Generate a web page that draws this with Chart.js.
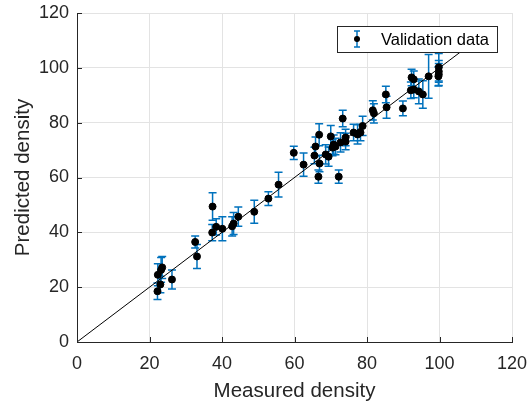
<!DOCTYPE html>
<html>
<head>
<meta charset="utf-8">
<script src="https://cdn.jsdelivr.net/npm/chart.js@4.4.0/dist/chart.umd.min.js"></script>
<style>
  html, body { margin: 0; padding: 0; background: #fff; }
  #wrap { width: 527px; height: 404px; }
</style>
</head>
<body>
<div id="wrap"><canvas id="chart" width="527" height="404"></canvas></div>
<script>
// Dados
const measured = [22.2, 23.0, 22.3, 23.2, 23.5, 26.2, 32.6, 33.1, 37.4, 37.3,
  38.4, 40.1, 42.8, 43.2, 44.5, 48.9, 52.8, 55.6, 59.8, 62.5,
  66.6, 72.2, 65.5, 66.9, 65.8, 66.8, 68.6, 69.4, 70.0, 70.5,
  70.8, 71.3, 72.7, 73.3, 74.1, 74.1, 76.3, 77.4, 78.2, 78.8,
  81.6, 81.9, 85.2, 85.4, 89.9, 92.3, 92.9, 92.1, 92.9, 94.3,
  95.4, 97.0, 99.8, 99.8, 99.8, 99.7];
const predicted = [18.5, 21.0, 24.5, 26.3, 27.2, 22.8, 36.5, 31.2, 49.4, 39.9,
  42.0, 41.3, 42.2, 43.2, 45.7, 47.5, 52.3, 57.4, 69.0, 64.7,
  60.3, 60.3, 68.0, 65.1, 71.3, 75.6, 68.4, 67.6, 75.0, 70.9,
  72.0, 71.3, 72.8, 81.5, 73.1, 74.6, 76.4, 75.7, 76.4, 78.8,
  84.5, 83.4, 90.3, 85.6, 85.2, 96.5, 95.8, 91.8, 92.1, 91.4,
  90.3, 96.9, 100.2, 98.7, 97.6, 96.9];
const errHalf = [3, 3, 4, 4.5, 4, 3.5, 2.2, 4.4, 5, 3,
  3, 4.4, 3.5, 4, 3.5, 4.2, 2.5, 4.5, 2.4, 4.2,
  2.4, 2.4, 3, 3, 3.5, 4, 3.5, 3.5, 4, 3,
  3.5, 3, 3.5, 3, 3, 3, 3, 3.5, 3, 3.5,
  3.5, 3.5, 3, 4, 2.7, 3, 3, 3, 3, 4.5,
  5, 8, 5, 4, 4, 3.5];
const lineX = [0, 110];
const tickValues = [0, 20, 40, 60, 80, 100, 120];

const blue = '#0072BD';
const axisColor = '#262626';
const fontFam = '"Liberation Sans", Arial, sans-serif';

const points = measured.map((x, i) => ({ x: x, y: predicted[i] }));
const diag = lineX.map(v => ({ x: v, y: v }));

// Barras de erro
const errorBars = {
  id: 'errorBars',
  beforeDatasetsDraw(chart) {
    const ctx = chart.ctx, xs = chart.scales.x, ys = chart.scales.y;
    ctx.save();
    ctx.strokeStyle = blue;
    ctx.lineWidth = 1.5;
    measured.forEach((m, i) => {
      const px = xs.getPixelForValue(m);
      const top = ys.getPixelForValue(predicted[i] + errHalf[i]);
      const bot = ys.getPixelForValue(predicted[i] - errHalf[i]);
      ctx.beginPath();
      ctx.moveTo(px, top); ctx.lineTo(px, bot);
      ctx.moveTo(px - 4, top); ctx.lineTo(px + 4, top);
      ctx.moveTo(px - 4, bot); ctx.lineTo(px + 4, bot);
      ctx.stroke();
    });
    ctx.restore();
  }
};

// Marcas dos ticks para dentro (estilo MATLAB)
const innerTicks = {
  id: 'innerTicks',
  afterDatasetsDraw(chart) {
    const ctx = chart.ctx, xs = chart.scales.x, ys = chart.scales.y;
    const a = chart.chartArea;
    ctx.save();
    ctx.strokeStyle = axisColor;
    ctx.lineWidth = 1;
    ctx.beginPath();
    tickValues.forEach(v => {
      const px = Math.round(xs.getPixelForValue(v)) + 0.5;
      ctx.moveTo(px, a.bottom); ctx.lineTo(px, a.bottom - 5);
      const py = Math.round(ys.getPixelForValue(v)) + 0.5;
      ctx.moveTo(a.left, py); ctx.lineTo(a.left + 5, py);
    });
    ctx.stroke();
    ctx.restore();
  }
};

// Legenda dentro do gráfico
const legendBox = {
  id: 'legendBox',
  afterDraw(chart) {
    const ctx = chart.ctx;
    const x0 = 337.5, y0 = 26.5, w = 160, h = 26;
    ctx.save();
    ctx.fillStyle = '#fff';
    ctx.fillRect(x0, y0, w, h);
    ctx.strokeStyle = axisColor;
    ctx.lineWidth = 1;
    ctx.strokeRect(x0, y0, w, h);
    const cx = 357, cy = 39;
    ctx.strokeStyle = blue;
    ctx.lineWidth = 1.5;
    ctx.beginPath();
    ctx.moveTo(cx, cy - 8); ctx.lineTo(cx, cy + 8);
    ctx.moveTo(cx - 3, cy - 8); ctx.lineTo(cx + 3, cy - 8);
    ctx.moveTo(cx - 3, cy + 8); ctx.lineTo(cx + 3, cy + 8);
    ctx.stroke();
    ctx.fillStyle = '#000';
    ctx.beginPath();
    ctx.arc(cx, cy, 3, 0, Math.PI * 2);
    ctx.fill();
    ctx.font = '16.5px ' + fontFam;
    ctx.textBaseline = 'middle';
    ctx.fillText('Validation data', 381, cy + 1);
    ctx.restore();
  }
};

new Chart(document.getElementById('chart'), {
  type: 'scatter',
  data: {
    datasets: [
      {
        label: 'Validation data',
        data: points,
        backgroundColor: '#000',
        borderColor: '#000',
        pointRadius: 3.5,
        pointHoverRadius: 3.5,
        order: 1
      },
      {
        type: 'line',
        label: 'diag',
        data: diag,
        borderColor: '#000',
        borderWidth: 1,
        pointRadius: 0,
        fill: false,
        order: 0
      }
    ]
  },
  options: {
    responsive: false,
    animation: false,
    layout: { padding: { left: 0, top: 13, right: 15, bottom: 0 } },
    plugins: { legend: { display: false }, tooltip: { enabled: false } },
    scales: {
      x: {
        type: 'linear',
        min: 0, max: 120,
        afterBuildTicks: s => { s.ticks = tickValues.map(v => ({ value: v })); },
        afterFit: s => { s.height = 62; s.paddingLeft = 0; s.paddingRight = 0; },
        grid: { color: '#e3e3e3', drawTicks: false },
        border: { color: axisColor, width: 1 },
        ticks: { color: axisColor, font: { family: fontFam, size: 18 }, padding: 11 },
        title: { display: true, text: 'Measured density', color: axisColor,
          font: { family: fontFam, size: 20.5 }, padding: { top: 2, bottom: 0 } }
      },
      y: {
        type: 'linear',
        min: 0, max: 120,
        afterBuildTicks: s => { s.ticks = tickValues.map(v => ({ value: v })); },
        afterFit: s => { s.width = 77; s.paddingTop = 0; s.paddingBottom = 0; },
        grid: { color: '#e3e3e3', drawTicks: false },
        border: { color: axisColor, width: 1 },
        ticks: { color: axisColor, font: { family: fontFam, size: 18 }, padding: 8 },
        title: { display: true, text: 'Predicted density', color: axisColor,
          font: { family: fontFam, size: 20.5 }, padding: { top: 11, bottom: 0 } }
      }
    }
  },
  plugins: [errorBars, innerTicks, legendBox]
});
</script>
</body>
</html>
